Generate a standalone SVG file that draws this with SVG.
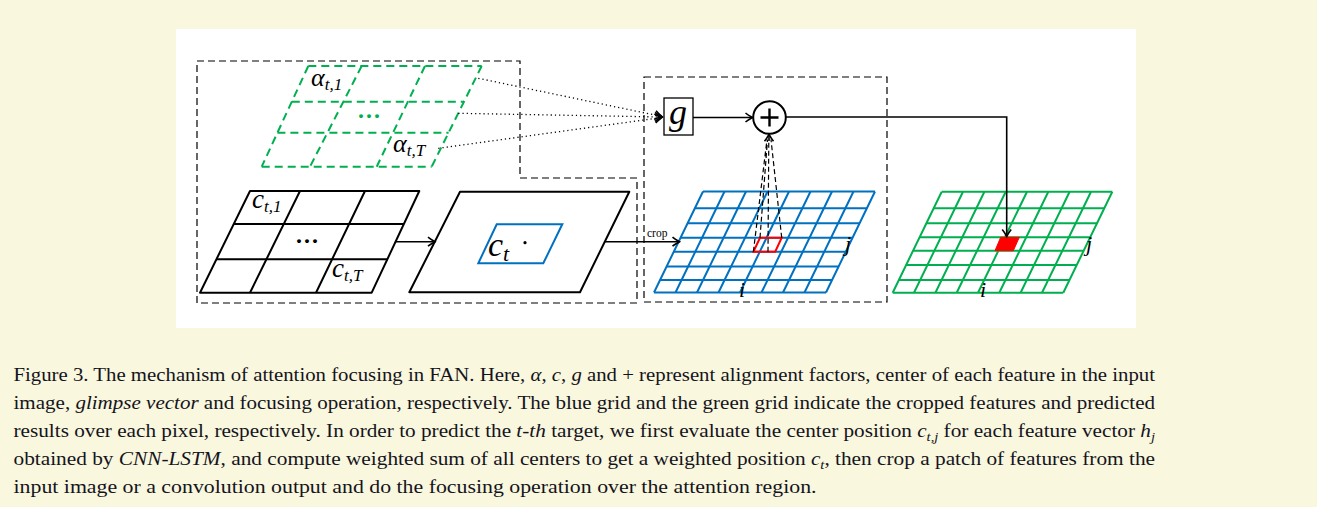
<svg xmlns="http://www.w3.org/2000/svg" width="1317" height="507" viewBox="0 0 1317 507">
<style>
.m{font-family:"Liberation Serif","Times New Roman",serif;font-style:italic;fill:#000}
.cap{font-family:"Liberation Serif","Times New Roman",serif;font-size:19px;fill:#141420}
.it{font-style:italic}
.box{fill:none;stroke:#000;stroke-width:1.2;stroke-dasharray:7 4}
.gd{fill:none;stroke:#00b050;stroke-width:2;stroke-dasharray:8 5}
.blk{fill:none;stroke:#000;stroke-width:2;stroke-linejoin:round}
.blue{fill:none;stroke:#0070c0;stroke-width:2}
.green{fill:none;stroke:#00b050;stroke-width:2}
.ln{fill:none;stroke:#000;stroke-width:1.6}
.dot{fill:none;stroke:#000;stroke-width:1.3;stroke-dasharray:1.2 3}
.dsh{fill:none;stroke:#000;stroke-width:1.2;stroke-dasharray:5 3}
</style>
<defs>
<marker id="arr" viewBox="-10 -6 12 12" refX="0" refY="0" markerWidth="12" markerHeight="12" markerUnits="userSpaceOnUse" orient="auto">
<path d="M-7,-4.5 C-4,-2 -1,-0.6 0,0 C-1,0.6 -4,2 -7,4.5" fill="none" stroke="#000" stroke-width="1.6"/>
</marker>
</defs>
<rect x="0" y="0" width="1317" height="507" fill="#faf7df"/>
<rect x="176" y="29" width="960" height="299" fill="#fff"/>

<g id="left-box">
<path class="box" d="M197,61 H520 V178 H637 V303 H197 Z"/>
</g>
<g id="right-box">
<rect class="box" x="644" y="77" width="243" height="225"/>
</g>

<g id="alpha-grid">
<path class="gd" d="M308.3,66 H481.7 M291.8,101.7 H464 M277.4,132.7 H448.6 M261.7,166.7 H431.7"/>
<path class="gd" d="M308.3,66 L261.7,166.7 M361.7,66 L310,166.7 M425,66 L376.7,166.7 M481.7,66 L431.7,166.7"/>
<text class="m" x="311" y="86" font-size="26">α<tspan font-size="17" dy="4">t,1</tspan></text>
<text x="369" y="124" font-family="Liberation Serif,serif" font-size="24" font-weight="bold" fill="#00b050" text-anchor="middle">···</text>
<text class="m" x="393" y="152" font-size="26">α<tspan font-size="17" dy="4">t,T</tspan></text>
</g>

<g id="c-grid">
<path class="blk" d="M250,191 H419.3 L371.7,292.7 H200 Z"/>
<path class="blk" d="M233.8,224 H403.9 M216.4,259.3 H387.3"/>
<path class="blk" d="M300,191 L250,292.7 M365,191 L316,292.7"/>
<text class="m" x="252" y="208" font-size="27">c<tspan font-size="17" dy="4">t,1</tspan></text>
<text x="307" y="248.5" font-family="Liberation Serif,serif" font-size="24" font-weight="bold" fill="#000" text-anchor="middle">···</text>
<text class="m" x="332" y="277" font-size="27">c<tspan font-size="17" dy="4">t,T</tspan></text>
</g>

<g id="image">
<path class="blk" d="M460,191.7 H629.3 L580,292.3 H409.3 Z"/>
<path class="blue" d="M496.7,224.3 H562.3 L543.3,263.3 H478.3 Z"/>
<text class="m" x="488" y="256" font-size="34">c<tspan font-size="22" dy="5">t</tspan></text>
<circle cx="525" cy="242.7" r="1.6" fill="#000"/>
</g>

<g id="g-node">
<rect x="664" y="98" width="29" height="37" fill="#fff" stroke="#000" stroke-width="1.3"/>
<text class="m" x="678" y="124" font-size="36" text-anchor="middle">g</text>
</g>

<g id="plus-node">
<circle cx="769.5" cy="117.5" r="16.3" fill="#fff" stroke="#000" stroke-width="2"/>
<path d="M760.5,117.5 H778.5 M769.5,108.5 V126.5" stroke="#000" stroke-width="2.4"/>
</g>

<g id="blue-grid">
<path class="blue" d="M703,191.5 H875 M694.85,208.3 H866.85 M687.57,223.3 H859.57 M680.59,237.7 H852.59 M673.8,251.7 H845.8 M666.62,266.5 H838.62 M660.07,280 H832.07 M654,292.5 H826"/>
<path class="blue" d="M703,191.5 L654,292.5 M724.5,191.5 L675.5,292.5 M746,191.5 L697,292.5 M767.5,191.5 L718.5,292.5 M789,191.5 L740,292.5 M810.5,191.5 L761.5,292.5 M832,191.5 L783,292.5 M853.5,191.5 L804.5,292.5 M875,191.5 L826,292.5"/>
<path d="M760,237.7 H781.7 L775.2,251.7 H753.4 Z" fill="none" stroke="#ff0000" stroke-width="2"/>
<text class="m" x="845" y="251" font-size="22">j</text>
<text class="m" x="739" y="296.5" font-size="22">i</text>
</g>

<g id="green-grid">
<path class="green" d="M941.7,191.7 H1112.3 M933.65,208.3 H1104.25 M926.37,223.3 H1096.97 M919.58,237.3 H1090.18 M913.08,250.7 H1083.68 M906.14,265 H1076.74 M898.86,280 H1069.46 M892.7,292.7 H1063.3"/>
<path class="green" d="M941.7,191.7 L892.7,292.7 M963,191.7 L914,292.7 M984.4,191.7 L935.4,292.7 M1005.7,191.7 L956.7,292.7 M1027,191.7 L978,292.7 M1048.3,191.7 L999.3,292.7 M1069.6,191.7 L1020.6,292.7 M1091,191.7 L1042,292.7 M1112.3,191.7 L1063.3,292.7"/>
<path d="M1000.7,237.3 H1019.3 L1013.3,250.7 H995 Z" fill="#ff0000" stroke="#ff0000" stroke-width="1"/>
<text class="m" x="1086" y="251" font-size="22">j</text>
<text class="m" x="980" y="296.5" font-size="22">i</text>
</g>

<g id="connectors">
<path class="dot" d="M478.3,78.3 L662,116.5" marker-end="url(#arr)"/>
<path class="dot" d="M458.3,113.3 L662,117" marker-end="url(#arr)"/>
<path class="dot" d="M438.3,148.3 L662,117.5" marker-end="url(#arr)"/>
<path class="ln" d="M395.6,241.7 H435" marker-end="url(#arr)"/>
<path class="ln" d="M604.8,241.7 H679.5" marker-end="url(#arr)"/>
<text x="647" y="237" font-family="Liberation Serif,serif" font-size="11.5" fill="#000">crop</text>
<path class="ln" d="M693,117.5 H752.5" marker-end="url(#arr)"/>
<path class="ln" d="M785.8,117 H1006.7 V236.5" marker-end="url(#arr)"/>
<path class="dsh" d="M760,237.7 L767.5,139.5 M781.7,237.7 L771,139.5 M768,251.7 L768.8,139.5 M753.4,251.7 L767,139.5"/>
<path class="ln" d="M769,141 V134.3" marker-end="url(#arr)"/>
</g>

<g id="caption">
<text class="cap" x="13.5" y="381.3" textLength="1141.5" lengthAdjust="spacingAndGlyphs">Figure 3. The mechanism of attention focusing in FAN. Here, <tspan class="it">α</tspan>, <tspan class="it">c</tspan>, <tspan class="it">g</tspan> and + represent alignment factors, center of each feature in the input</text>
<text class="cap" x="13.5" y="409.2" textLength="1141.5" lengthAdjust="spacingAndGlyphs">image, <tspan class="it">glimpse vector</tspan> and focusing operation, respectively.  The blue grid and the green grid indicate the cropped features and predicted</text>
<text class="cap" x="13.5" y="437.1" textLength="1141.5" lengthAdjust="spacingAndGlyphs">results over each pixel, respectively. In order to predict the <tspan class="it">t-th</tspan> target, we first evaluate the center position <tspan class="it">c</tspan><tspan font-size="13" dy="4" class="it">t,j</tspan><tspan dy="-4"> for each feature vector </tspan><tspan class="it">h</tspan><tspan font-size="13" dy="4" class="it">j</tspan></text>
<text class="cap" x="13.5" y="465" textLength="1141.5" lengthAdjust="spacingAndGlyphs">obtained by <tspan class="it">CNN-LSTM</tspan>, and compute weighted sum of all centers to get a weighted position <tspan class="it">c</tspan><tspan font-size="13" dy="4" class="it">t</tspan><tspan dy="-4">, then crop a patch of features from the</tspan></text>
<text class="cap" x="13.5" y="492.9" textLength="803" lengthAdjust="spacingAndGlyphs">input image or a convolution output and do the focusing operation over the attention region.</text>
</g>
</svg>
